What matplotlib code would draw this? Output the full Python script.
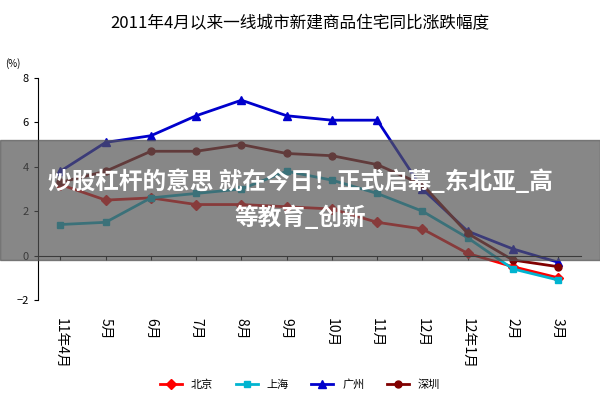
import matplotlib.pyplot as plt
from matplotlib.patches import Rectangle

plt.rcParams['font.family'] = ['Noto Sans CJK SC', 'DejaVu Sans']

months = ['11年4月', '5月', '6月', '7月', '8月', '9月', '10月', '11月', '12月', '12年1月', '2月', '3月']
beijing = [3.2, 2.5, 2.6, 2.3, 2.3, 2.2, 2.1, 1.5, 1.2, 0.1, -0.5, -1.0]
shanghai = [1.4, 1.5, 2.6, 2.8, 3.0, 3.8, 3.4, 2.8, 2.0, 0.8, -0.6, -1.1]
guangzhou = [3.8, 5.1, 5.4, 6.3, 7.0, 6.3, 6.1, 6.1, 3.0, 1.1, 0.3, -0.3]
shenzhen = [3.3, 3.8, 4.7, 4.7, 5.0, 4.6, 4.5, 4.1, 3.2, 1.0, -0.2, -0.5]

fig = plt.figure(figsize=(6, 4), dpi=100)
ax = fig.add_axes([0.063, 0.25, 0.905, 0.555])
x = range(len(months))
ax.plot(x, beijing, color='#ff0000', marker='D', ms=5, lw=2, label='北京')
ax.plot(x, shanghai, color='#00b4d0', marker='s', ms=5, lw=2, label='上海')
ax.plot(x, guangzhou, color='#0000cc', marker='^', ms=6, lw=2, label='广州')
ax.plot(x, shenzhen, color='#800000', marker='o', ms=5, lw=2, label='深圳')

ax.set_ylim(-2, 8)
ax.set_yticks([-2, 0, 2, 4, 6, 8])
ax.set_xlim(-0.5, len(months) - 0.5)
ax.set_xticks(list(x))
ax.set_xticklabels(months, fontsize=7)
ax.tick_params(axis='y', labelsize=8, length=3)
ax.spines['top'].set_visible(False)
ax.spines['right'].set_visible(False)
ax.spines['bottom'].set_position(('data', 0))
ax.tick_params(axis='x', pad=42, length=3)
for lbl in ax.get_xticklabels():
    lbl.set_rotation(270)
    lbl.set_va('top')
    lbl.set_ha('center')
ax.text(-0.06, 1.05, '(%)', transform=ax.transAxes, fontsize=7)

fig.text(0.5, 0.93, '2011年4月以来一线城市新建商品住宅同比涨跌幅度', ha='center', fontsize=12)
fig.legend(loc='lower center', bbox_to_anchor=(0.5, 0.0), ncol=4, frameon=False, fontsize=8)

# semi-transparent caption banner
fig.patches.append(Rectangle((0, 0.35), 1, 0.3, transform=fig.transFigure,
                             color='#555555', alpha=0.7, zorder=5))
fig.text(0.5, 0.545, '炒股杠杆的意思 就在今日！正式启幕_东北亚_高', ha='center', va='center',
         color='white', fontsize=17, fontweight='bold', zorder=6)
fig.text(0.5, 0.455, '等教育_创新', ha='center', va='center',
         color='white', fontsize=17, fontweight='bold', zorder=6)

fig.savefig('out.png', dpi=100)
